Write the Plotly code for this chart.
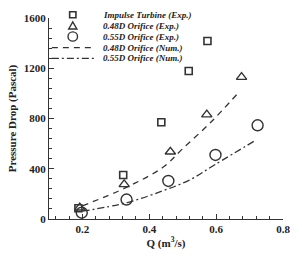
import plotly.graph_objects as go

# Experimental data
q_turbine = [0.188, 0.322, 0.436, 0.518, 0.574]
dp_turbine = [86, 350, 770, 1178, 1417]

q_048_exp = [0.192, 0.325, 0.463, 0.572, 0.676]
dp_048_exp = [90, 276, 535, 831, 1129]

q_055_exp = [0.198, 0.332, 0.457, 0.598, 0.724]
dp_055_exp = [50, 155, 303, 510, 746]

# Numerical curves
q_048_num = [0.2, 0.33, 0.44, 0.5, 0.584, 0.664]
dp_048_num = [105, 250, 410, 560, 770, 998]

q_055_num = [0.2, 0.334, 0.438, 0.52, 0.598, 0.719]
dp_055_num = [62, 131, 222, 310, 435, 628]

names = ["Impulse Turbine (Exp.)", "0.48D Orifice (Exp.)", "0.55D Orifice (Exp.)",
         "0.48D Orifice (Num.)", "0.55D Orifice (Num.)"]

ink = "#333333"
DASH = "6px,5px"
DASHDOT = "7px,3px,2px,3px"

fig = go.Figure()
fig.add_trace(go.Scatter(x=q_turbine, y=dp_turbine, mode="markers", name=names[0],
                         marker=dict(symbol="square-open", size=7, color=ink, line=dict(width=1.6))))
fig.add_trace(go.Scatter(x=q_048_exp, y=dp_048_exp, mode="markers", name=names[1],
                         marker=dict(symbol="triangle-up-open", size=9, color=ink, line=dict(width=1.4))))
fig.add_trace(go.Scatter(x=q_055_exp, y=dp_055_exp, mode="markers", name=names[2],
                         marker=dict(symbol="circle-open", size=11, color=ink, line=dict(width=1.4))))
fig.add_trace(go.Scatter(x=q_048_num, y=dp_048_num, mode="lines", name=names[3], line_shape="spline",
                         line=dict(color=ink, width=1.3, dash=DASH)))
fig.add_trace(go.Scatter(x=q_055_num, y=dp_055_num, mode="lines", name=names[4], line_shape="spline",
                         line=dict(color=ink, width=1.3, dash=DASHDOT)))

# ---- compact legend built from shapes + annotations (paper coords) ----
L, T, W, H = 42, 15, 246, 217          # plot area in pixels
def px(x): return (x - L) / W
def py(y): return (T + H - y) / H

rows = [11.5, 23.5, 35.0, 47.0, 58.5]
sym_x = 67
shapes = []
annos = []
# square
r = 3.3
shapes.append(dict(type="rect", xref="paper", yref="paper",
                   x0=px(sym_x - r), x1=px(sym_x + r), y0=py(rows[0] + r), y1=py(rows[0] - r),
                   line=dict(color=ink, width=1.6)))
# triangle
tr = 4.3
path = "M {} {} L {} {} L {} {} Z".format(px(sym_x - tr), py(rows[1] + 3.3), px(sym_x + tr), py(rows[1] + 3.3),
                                          px(sym_x), py(rows[1] - 4.3))
shapes.append(dict(type="path", xref="paper", yref="paper", path=path, line=dict(color=ink, width=1.4)))
# circle
cr = 5.0
shapes.append(dict(type="circle", xref="paper", yref="paper",
                   x0=px(sym_x - cr), x1=px(sym_x + cr), y0=py(rows[2] + cr), y1=py(rows[2] - cr),
                   line=dict(color=ink, width=1.4)))
# lines
for rr, d in [(rows[3], DASH), (rows[4], DASHDOT)]:
    shapes.append(dict(type="line", xref="paper", yref="paper", x0=px(45), x1=px(91), y0=py(rr), y1=py(rr),
                       line=dict(color=ink, width=1.3, dash=d)))
for rr, name in zip(rows, names):
    annos.append(dict(xref="paper", yref="paper", x=px(97), y=py(rr), xanchor="left", yanchor="middle",
                      text="<b><i>" + name + "</i></b>", showarrow=False,
                      font=dict(family="Liberation Serif", size=9, color="#222")))

axis_font = dict(family="Liberation Serif", size=11, color="#222", weight="bold")
fig.update_layout(
    width=302, height=257,
    margin=dict(l=L, r=302 - L - W, t=T, b=257 - T - H),
    paper_bgcolor="white", plot_bgcolor="white",
    showlegend=False,
    shapes=shapes, annotations=annos,
    xaxis=dict(range=[0.1, 0.8], tickvals=[0.2, 0.4, 0.6, 0.8], ticktext=["0.2", "0.4", "0.6", "0.8"],
               ticks="inside", ticklen=5, tickwidth=1, tickcolor="#333",
               minor=dict(dtick=0.04, tick0=0, ticks="inside", ticklen=3, tickcolor="#333"),
               showline=True, linecolor="#333", linewidth=1.2, showgrid=False, zeroline=False,
               tickfont=axis_font,
               title=dict(text="Q (m<sup>3</sup>/s)", font=dict(family="Liberation Serif", size=11, color="#222", weight="bold"), standoff=2)),
    yaxis=dict(range=[0, 1600], tickvals=[0, 400, 800, 1200, 1600],
               ticks="inside", ticklen=5, tickwidth=1, tickcolor="#333",
               minor=dict(dtick=80, tick0=0, ticks="inside", ticklen=3, tickcolor="#333"),
               showline=True, linecolor="#333", linewidth=1.2, showgrid=False, zeroline=False,
               tickfont=axis_font,
               title=dict(text="Pressure Drop (Pascal)", font=dict(family="Liberation Serif", size=11, color="#222", weight="bold"), standoff=4)),
)
fig.write_html("out.html")
